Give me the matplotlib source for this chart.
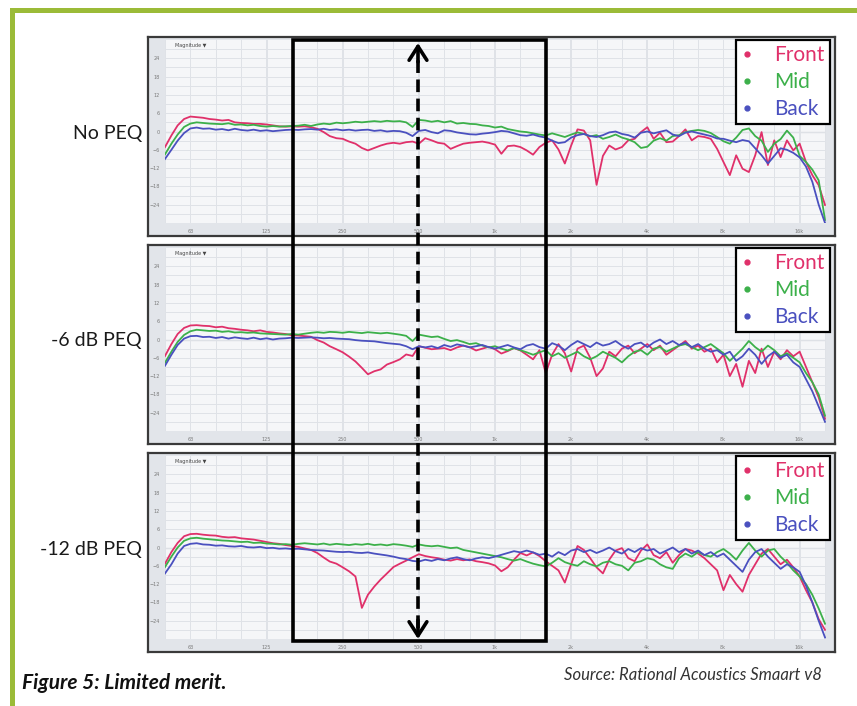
import matplotlib.pyplot as plt
from matplotlib.lines import Line2D
from matplotlib.patches import Rectangle, FancyArrowPatch
from matplotlib.transforms import blended_transform_factory

W, H = 857, 706

# 1/12-octave frequency points (Hz)
freq = [50.0, 53.0, 56.1, 59.5, 63, 66.7, 70.7, 74.9, 79.4, 84.1,
        89.1, 94.4, 100, 106, 112, 119, 126, 133.5, 141.4, 149.8,
        158.7, 168.2, 178.2, 188.8, 200, 212, 224, 238, 252, 267,
        283, 300, 317, 336, 356, 377, 400, 424, 449, 476,
        504, 534, 566, 599, 635, 673, 713, 755, 800, 848,
        898, 951, 1008, 1068, 1131, 1198, 1270, 1345, 1425, 1510,
        1600, 1695, 1796, 1903, 2016, 2136, 2263, 2397, 2540, 2691,
        2851, 3020, 3200, 3390, 3592, 3805, 4032, 4271, 4525, 4795,
        5080, 5382, 5702, 6041, 6400, 6781, 7184, 7611, 8063, 8543,
        9051, 9589, 10159, 10763, 11404, 12082, 12800, 13561, 14368, 15222,
        16127, 17086, 18102, 19179, 20319]

# No PEQ
front_no = [-5.1, -1.3, 2.0, 4.1, 4.9, 4.7, 4.5, 4.1, 3.9, 3.6,
            3.8, 3.0, 2.8, 2.7, 2.5, 2.5, 2.3, 2.0, 1.7, 1.6,
            1.7, 1.6, 1.7, 1.4, 0.9, -0.2, -1.5, -2.2, -2.4, -3.3,
            -4.0, -5.4, -6.2, -5.4, -4.6, -4.0, -3.7, -4.0, -3.5, -3.3,
            -4.0, -2.2, -2.9, -3.7, -4.0, -5.7, -4.8, -4.0, -3.7, -3.5,
            -3.3, -3.7, -4.3, -7.3, -4.8, -4.6, -5.1, -6.2, -7.6, -5.1,
            -3.7, -2.9, -5.9, -10.5, -4.6, 0.7, 0.3, -2.9, -17.5, -8.0,
            -4.6, -5.9, -5.1, -2.9, -2.4, -0.2, 1.4, -2.4, -0.4, -3.5,
            -3.3, -1.5, 0.7, -2.9, -1.5, -1.8, -2.4, -5.7, -10.0, -14.3,
            -7.8, -12.2, -13.3, -7.8, -0.2, -11.0, -2.9, -8.4, -2.9, -6.2,
            -4.0, -10.0, -14.3, -17.6, -24.1]
mid_no = [-7.5, -4.0, -1.0, 1.5, 2.6, 3.0, 2.8, 2.6, 2.5, 2.4,
          2.7, 2.2, 2.3, 2.0, 2.2, 1.8, 1.6, 1.8, 1.6, 1.7,
          1.8, 1.9, 2.2, 1.8, 2.3, 2.6, 2.4, 2.9, 2.7, 2.9,
          3.2, 3.0, 3.2, 3.4, 3.2, 3.5, 3.3, 3.4, 3.0, 1.5,
          3.8, 3.6, 3.2, 3.5, 3.0, 3.4, 2.6, 2.8, 2.5, 2.4,
          2.0, 1.8, 1.3, 1.6, 0.8, 0.4, 0.0, -0.2, -0.6, -1.0,
          -1.3, -0.6, -1.2, -1.8, -1.0, -0.3, -0.8, -1.6, -1.2, -2.4,
          -1.8, -1.0, -2.0, -2.6, -3.5, -5.4, -5.0, -3.0, -2.2, -3.0,
          -1.5, -1.2, -0.2, 0.2, 0.5, 0.2, -0.5, -1.8, -3.2, -4.0,
          -2.0, 0.5, 1.0, -1.5, -3.0, -6.7, -4.0, -2.5, 0.3, -2.0,
          -8.0, -10.0, -12.5, -16.0, -29.0]
back_no = [-9.0, -6.0, -3.0, -0.5, 1.0, 1.3, 0.9, 1.0, 0.6, 0.8,
           0.4, 0.9, 0.5, 0.3, 0.6, 0.2, 0.4, 0.1, 0.3, 0.5,
           0.6, 0.5, 0.7, 0.8, 0.6, 0.9, 0.5, 0.7, 0.4, 0.6,
           0.3, 0.5, 0.6, 0.2, 0.4, 0.0, 0.2, 0.1, -0.4, -1.5,
           0.2, 0.5, -0.2, -0.6, 0.4, 0.2, -0.3, -0.6, -0.9, -1.0,
           -0.7, -0.5, -0.2, 0.2, 0.0, -0.6, -1.2, -1.4, -1.0, -1.6,
           -2.0, -3.0, -3.8, -3.5, -2.0, -1.2, -0.8, -1.5, -1.8, -1.2,
           -0.3, 0.0, -0.8, -1.2, -2.0, -0.4, 0.0, -0.6, -0.1, 0.4,
           -1.0, -1.5, -0.4, 0.0, -0.5, -1.0, -1.5, -2.3, -2.4, -3.0,
           -3.5, -2.8, -3.2, -5.5, -7.8, -10.5, -8.0, -5.5, -6.0, -7.0,
           -8.5, -11.5, -16.5, -24.0, -30.0]

# -6 dB PEQ
front_6 = [-5.4, -1.5, 1.8, 3.8, 4.6, 4.7, 4.5, 4.4, 4.0, 4.2,
           3.7, 3.5, 3.2, 3.0, 2.7, 3.0, 2.5, 2.3, 2.0, 1.8,
           1.4, 1.3, 1.1, 0.9, -0.2, -1.0, -2.2, -3.2, -4.2, -5.6,
           -7.2, -9.3, -11.4, -10.4, -9.8, -8.2, -7.4, -6.5, -4.9, -5.4,
           -2.2, -2.7, -3.2, -3.0, -2.8, -3.5, -2.6, -2.0, -2.5, -3.6,
           -3.0, -2.4, -3.2, -4.6, -3.8, -2.8, -3.6, -5.0, -6.5, -3.5,
           -11.0, -5.0, -1.5, -4.5, -10.5, -3.0, -2.0, -6.0, -12.0, -9.5,
           -4.0, -5.5, -3.0, -2.0, -4.5, -3.0, -1.5, -3.5, -2.0, -5.0,
           -3.5, -2.0, -0.5, -3.0, -2.0, -4.0, -3.0, -7.5, -5.0, -12.0,
           -8.0, -15.5, -7.0, -11.0, -3.0, -9.0, -4.0, -6.5, -3.5, -5.5,
           -4.0, -9.0, -14.0, -19.0, -26.0]
mid_6 = [-7.6, -4.0, -0.8, 1.5, 2.7, 3.2, 3.0, 2.8, 2.9, 2.5,
         2.7, 2.3, 2.4, 2.2, 2.3, 2.0, 1.9, 1.8, 1.7, 1.6,
         1.8, 1.6, 1.9, 2.2, 2.4, 2.2, 2.5, 2.4, 2.2, 2.5,
         2.3, 2.1, 2.4, 2.2, 2.0, 2.2, 1.9, 1.6, 1.2, -0.5,
         1.6, 1.2, 0.8, 1.0, 0.2, -0.5, -0.2, -0.8, -1.5, -1.2,
         -2.0, -2.6, -2.2, -3.0, -3.6, -2.8, -3.5, -4.2, -5.0, -4.2,
         -3.5, -5.5, -4.5, -6.0, -5.0, -4.0, -5.5, -6.5, -5.5, -4.0,
         -5.0, -6.0, -7.5, -5.5, -4.0, -3.5, -5.0, -3.0, -2.5, -4.0,
         -3.0, -2.0, -1.5, -2.5, -3.5, -2.5, -1.5, -3.0, -4.5, -7.0,
         -5.0, -3.0, -0.5, -2.5, -4.0, -2.0, -3.5, -5.5, -4.5, -6.0,
         -7.5, -11.0, -14.0, -18.0, -25.0]
back_6 = [-8.6, -5.0, -1.8, 0.3, 1.1, 1.2, 0.8, 0.9, 0.5, 0.8,
          0.3, 0.7, 0.4, 0.2, 0.6, 0.1, 0.4, 0.0, 0.3, 0.4,
          0.6, 0.5, 0.6, 0.7, 0.6, 0.4, 0.5, 0.3, 0.2, 0.1,
          -0.2, -0.4, -0.5, -0.6, -0.9, -1.2, -1.4, -1.6, -2.2, -3.2,
          -2.2, -2.6, -2.2, -2.8, -1.8, -2.4, -1.6, -2.0, -2.6, -2.2,
          -1.8, -2.5, -3.0, -2.4, -1.8, -2.6, -3.2, -2.0, -1.5, -2.5,
          -3.0, -1.2, -2.0, -3.5, -1.8, -0.5, -1.5, -2.5, -1.0, -2.0,
          -1.5, -0.5, -2.0, -3.0, -1.5, -1.0, -2.5, -1.0, 0.0, -1.5,
          -0.5, -1.8, -1.0, -2.5, -1.5, -3.0, -4.0, -3.5, -5.0, -4.0,
          -7.0, -5.5, -3.0, -5.0, -8.0, -5.5, -4.0, -6.0, -5.0, -7.5,
          -9.0, -13.0, -17.0, -22.0, -27.0]

# -12 dB PEQ
front_12 = [-5.3, -1.5, 1.5, 3.7, 4.4, 4.5, 4.2, 4.0, 3.9, 3.5,
            3.3, 3.4, 3.0, 2.8, 2.6, 2.2, 1.8, 1.4, 1.2, 0.8,
            0.5, 0.2, -0.3, -0.8, -1.8, -3.3, -4.6, -5.3, -6.5, -7.8,
            -9.5, -19.8, -15.5, -12.8, -10.5, -8.5, -6.4, -5.3, -4.3, -3.2,
            -2.2, -2.8, -3.2, -3.5, -4.0, -4.3, -3.8, -4.2, -3.9, -4.5,
            -4.8, -5.2, -5.9, -7.8, -6.5, -4.0, -1.8, -2.6, -1.6, -2.8,
            -4.5, -6.0, -7.5, -11.5, -5.5, 0.5, -0.8, -3.5, -6.5, -8.5,
            -4.0, -1.0, -0.2, -3.5, -4.5, -1.0, 1.0, -2.5, -3.5, -1.5,
            -5.0, -2.5, -0.5, -1.0, -2.0, -3.5, -5.5, -7.5, -14.0, -9.0,
            -12.0, -14.5, -9.0, -5.5, -2.0, -0.5, -3.0, -5.5, -4.0, -6.5,
            -9.5, -14.0, -18.0, -23.5, -27.0]
mid_12 = [-6.4, -3.0, 0.0, 2.2, 3.0, 3.2, 2.9, 2.7, 2.5, 2.3,
          2.2, 2.0, 1.8, 1.9, 1.5, 1.6, 1.3, 1.2, 1.0, 1.1,
          0.9, 1.2, 1.4, 1.2, 1.0, 1.3, 0.9, 1.2, 1.0, 0.8,
          1.1, 0.9, 1.2, 0.8, 1.0, 0.7, 1.1, 0.9, 0.6, 0.2,
          1.0, 0.6, 0.4, 0.6, 0.2, -0.2, 0.0, -0.8, -1.2, -1.6,
          -2.0, -2.4, -2.8, -3.2, -3.8, -4.3, -3.8, -4.6, -5.3, -5.8,
          -6.2, -5.0, -3.5, -4.8, -5.5, -6.0, -4.5, -5.5, -6.2, -5.0,
          -4.5, -5.5, -6.0, -7.5, -5.0, -4.5, -3.5, -4.0, -5.5, -6.5,
          -7.0, -3.5, -2.0, -3.0, -1.5, -2.5, -3.0, -1.5, -0.5, -2.0,
          -4.0, -1.0, 1.5, -1.0, -3.0, -1.0, -0.5, -3.0, -5.0, -7.5,
          -9.5, -12.0, -15.5, -20.0, -25.0]
back_12 = [-8.5, -5.5, -2.0, 0.5, 1.2, 1.4, 1.0, 0.9, 0.6, 0.7,
           0.4, 0.3, 0.5, 0.1, 0.0, 0.2, -0.2, -0.1, -0.4, -0.3,
           -0.5, -0.4, -0.6, -0.8, -0.9, -1.0, -1.2, -1.4, -1.5, -1.4,
           -1.7, -1.8, -1.6, -2.0, -2.3, -2.6, -3.0, -3.5, -3.8, -4.4,
           -4.6, -4.0, -4.4, -3.8, -4.2, -3.6, -3.2, -3.8, -4.2, -3.6,
           -3.2, -3.5, -3.0, -2.4, -1.8, -1.2, -1.6, -1.0, -1.6, -2.4,
           -2.0, -3.0, -1.5, -2.5, -1.0, -0.5, -1.5, -0.8, -1.8, -1.0,
           0.0, -1.2, -2.0, -0.5, -1.5, -0.2, -1.0, -0.5, -2.0, -1.0,
           0.0, -1.5, -0.5, -2.0, -1.0, -2.5, -1.5, -3.0, -2.0, -4.0,
           -6.0, -8.0, -4.0, -1.5, -0.5, -3.0, -5.0, -7.0, -5.5, -6.5,
           -8.0, -12.5, -18.0, -24.0, -29.5]

row_names = ["No PEQ", "-6 dB PEQ", "-12 dB PEQ"]
series_names = ["Front", "Mid", "Back"]
colors = ["#e0306a", "#3cb04a", "#4a50bf"]
xtick_f = [63, 125, 250, 500, 1000, 2000, 4000, 8000, 16000]
xtick_lab = ["63", "125", "250", "500", "1k", "2k", "4k", "8k", "16k"]
ytick_v = [24, 18, 12, 6, 0, -6, -12, -18, -24]
ygrid_v = [27, 21, 15, 9, 3, -3, -9, -15, -21, -27]
band = (160, 1600)
arrow_f = 500

panels = [(front_no, mid_no, back_no),
          (front_6, mid_6, back_6),
          (front_12, mid_12, back_12)]

FONT = ['Lato', 'DejaVu Sans']


def box(x0, y0, x1, y1):
    return [x0 / W, 1 - y1 / H, (x1 - x0) / W, (y1 - y0) / H]


fig = plt.figure(figsize=(W / 100, H / 100), dpi=100)
fig.patch.set_facecolor('white')

# green page border (top and left)
fig.add_artist(Rectangle((10 / W, 1 - 13 / H), 1, 5 / H, transform=fig.transFigure,
                         color='#9bbb38', lw=0))
fig.add_artist(Rectangle((10 / W, 0), 5 / W, 1 - 8 / H, transform=fig.transFigure,
                         color='#9bbb38', lw=0))

tops = [37, 245, 453]
axes = []
for k, top in enumerate(tops):
    frame = fig.add_axes(box(148, top, 835, top + 199))
    frame.set_facecolor('#e2e5ea')
    frame.set_xticks([])
    frame.set_yticks([])
    for s in frame.spines.values():
        s.set_color('#3a3a3a')
        s.set_linewidth(1.6)

    ax = fig.add_axes(box(165, top + 3, 826, top + 186))
    ax.set_facecolor('#f5f6f8')
    ax.set_xscale('log')
    ax.set_xlim(50, 20500)
    ax.set_ylim(-30, 30)
    for s in ax.spines.values():
        s.set_visible(False)
    ax.set_xticks(xtick_f)
    ax.set_xticklabels(xtick_lab)
    ax.set_xticks(freq[::4], minor=True)
    ax.xaxis.set_minor_formatter(plt.NullFormatter())
    ax.set_yticks(ytick_v)
    ax.set_yticks(ygrid_v, minor=True)
    ax.tick_params(which='both', length=0, labelsize=3.5, labelcolor='#7a7a7a', pad=4)
    ax.grid(which='both', color='#dfe2e7', lw=0.7)
    ax.axhline(0, color='#c9ccd2', lw=0.9, zorder=1)
    ax.text(0.015, 0.985, "Magnitude \u25bc", transform=ax.transAxes, fontsize=3.5,
            va='top', color='#444444')

    for vals, c, name in zip(panels[k], colors, series_names):
        ax.plot(freq, vals, color=c, lw=1.3, label=name, zorder=3)

    handles = [Line2D([], [], ls='', marker='o', ms=3.5, color=c) for c in colors]
    leg = ax.legend(handles, series_names, loc='upper right',
                    bbox_to_anchor=(830 / W, 1 - (top + 3) / H),
                    bbox_transform=fig.transFigure, borderaxespad=0,
                    fancybox=False, framealpha=1, edgecolor='black',
                    labelcolor=colors, handlelength=0.6, handletextpad=1.0,
                    labelspacing=0.33, borderpad=0.25,
                    prop={'family': FONT, 'size': 15})
    leg.get_frame().set_linewidth(1.6)
    leg.set_zorder(10)

    fig.text(142 / W, 1 - (top + 96) / H, row_names[k], ha='right', va='center',
             fontsize=14, family=FONT, color='#1a1a1a')
    axes.append(ax)

# highlighted band and double arrow, placed by frequency
tr = blended_transform_factory(axes[0].transData, fig.transFigure)
fig.add_artist(Rectangle((band[0], 1 - 641 / H), band[1] - band[0], (641 - 40) / H,
                         transform=tr, fill=False, ec='black', lw=2.6, zorder=20))
fig.add_artist(Line2D([arrow_f, arrow_f], [1 - 628 / H, 1 - 54 / H], transform=tr,
                      color='black', lw=2.6, ls=(0, (3.5, 1.8)), zorder=20))
for y_from, y_to in [(1 - 62 / H, 1 - 43 / H), (1 - 620 / H, 1 - 639 / H)]:
    fig.add_artist(FancyArrowPatch((arrow_f, y_from), (arrow_f, y_to), transform=tr,
                                   arrowstyle='->,head_length=0.5,head_width=0.32',
                                   mutation_scale=20, lw=2.6, color='black',
                                   shrinkA=0, shrinkB=0, zorder=21))

fig.text(22 / W, 1 - 683 / H, "Figure 5: Limited merit.", fontsize=15,
         fontweight='bold', fontstyle='italic', family=FONT, va='center', color='#111111')
fig.text(822 / W, 1 - 675 / H, "Source: Rational Acoustics Smaart v8", fontsize=12,
         fontstyle='italic', family=FONT, va='center', ha='right', color='#333333')

fig.savefig('out.png', dpi=100)
